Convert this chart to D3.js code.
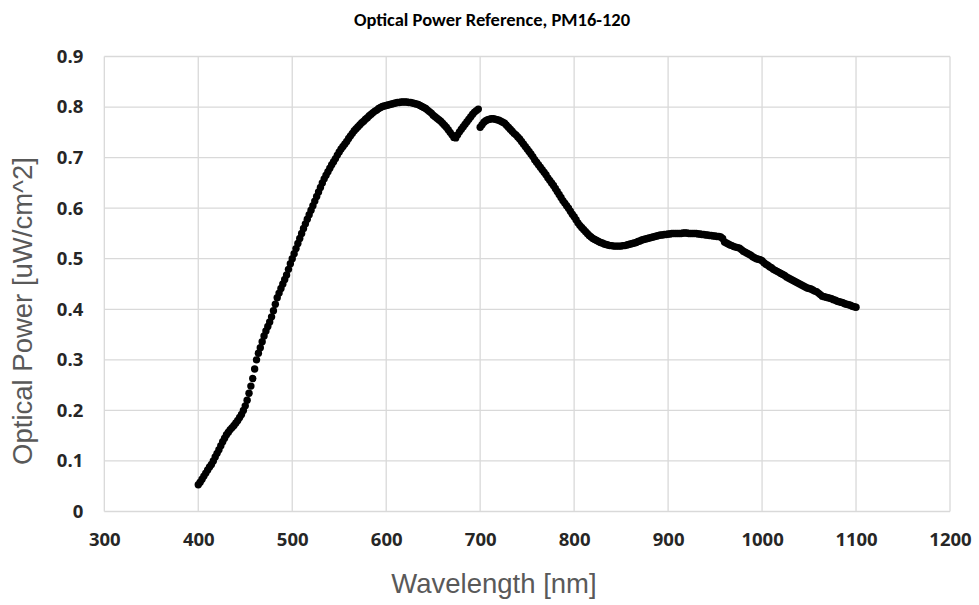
<!DOCTYPE html>
<html>
<head>
<meta charset="utf-8">
<script src="https://cdn.jsdelivr.net/npm/d3@7"></script>
<style>
  html, body { margin: 0; padding: 0; background: #fff; }
  svg { display: block; }
</style>
</head>
<body>
<svg id="chart" width="979" height="605"></svg>
<script>
// Optical power reference curve, PM16-120 (2 nm steps)

const wavelengths = [
  400,402,404,406,408,410,412,414,416,418,420,422,424,426,428,430,432,434,436,438,440,442,444,446,448,
  450,452,454,456,458,460,462,464,466,468,470,472,474,476,478,480,482,484,486,488,490,492,494,496,498,
  500,502,504,506,508,510,512,514,516,518,520,522,524,526,528,530,532,534,536,538,540,542,544,546,548,
  550,552,554,556,558,560,562,564,566,568,570,572,574,576,578,580,582,584,586,588,590,592,594,596,598,
  600,602,604,606,608,610,612,614,616,618,620,622,624,626,628,630,632,634,636,638,640,642,644,646,648,
  650,652,654,656,658,660,662,664,666,668,670,672,674,676,678,680,682,684,686,688,690,692,694,696,698,
  700,702,704,706,708,710,712,714,716,718,720,722,724,726,728,730,732,734,736,738,740,742,744,746,748,
  750,752,754,756,758,760,762,764,766,768,770,772,774,776,778,780,782,784,786,788,790,792,794,796,798,
  800,802,804,806,808,810,812,814,816,818,820,822,824,826,828,830,832,834,836,838,840,842,844,846,848,
  850,852,854,856,858,860,862,864,866,868,870,872,874,876,878,880,882,884,886,888,890,892,894,896,898,
  900,902,904,906,908,910,912,914,916,918,920,922,924,926,928,930,932,934,936,938,940,942,944,946,948,
  950,952,954,956,958,960,962,964,966,968,970,972,974,976,978,980,982,984,986,988,990,992,994,996,998,
  1000,1002,1004,1006,1008,1010,1012,1014,1016,1018,1020,1022,1024,1026,1028,1030,1032,1034,1036,1038,1040,1042,1044,1046,1048,
  1050,1052,1054,1056,1058,1060,1062,1064,1066,1068,1070,1072,1074,1076,1078,1080,1082,1084,1086,1088,1090,1092,1094,1096,1098,
  1100
];

const power = [
  0.053,0.058,0.064,0.070,0.076,0.082,0.088,0.093,0.100,0.108,0.115,0.122,0.130,0.138,0.145,0.152,0.157,0.162,0.166,0.170,0.175,0.180,0.186,0.192,0.200,
  0.209,0.220,0.234,0.248,0.263,0.282,0.300,0.313,0.324,0.336,0.347,0.357,0.366,0.375,0.385,0.397,0.410,0.423,0.432,0.441,0.450,0.459,0.468,0.479,0.490,
  0.500,0.510,0.520,0.530,0.540,0.550,0.560,0.569,0.578,0.587,0.596,0.605,0.614,0.623,0.632,0.641,0.650,0.658,0.665,0.672,0.679,0.686,0.692,0.698,0.705,
  0.711,0.717,0.722,0.727,0.732,0.738,0.743,0.748,0.753,0.757,0.761,0.765,0.769,0.772,0.776,0.779,0.783,0.786,0.789,0.792,0.794,0.797,0.799,0.801,0.802,
  0.803,0.804,0.805,0.806,0.807,0.808,0.809,0.809,0.810,0.810,0.810,0.810,0.809,0.809,0.808,0.807,0.806,0.805,0.803,0.801,0.799,0.797,0.794,0.791,0.788,
  0.784,0.781,0.778,0.775,0.772,0.768,0.764,0.760,0.755,0.750,0.745,0.740,0.739,0.745,0.751,0.756,0.761,0.766,0.771,0.776,0.781,0.786,0.790,0.793,0.796,
  0.760,0.765,0.770,0.773,0.775,0.776,0.777,0.777,0.776,0.775,0.774,0.772,0.770,0.768,0.764,0.760,0.756,0.752,0.748,0.745,0.741,0.737,0.732,0.727,0.722,
  0.717,0.712,0.707,0.702,0.696,0.691,0.686,0.681,0.676,0.671,0.666,0.660,0.655,0.650,0.645,0.639,0.633,0.627,0.621,0.615,0.610,0.605,0.600,0.594,0.588,
  0.583,0.577,0.571,0.566,0.562,0.558,0.554,0.550,0.546,0.543,0.540,0.538,0.536,0.534,0.532,0.531,0.529,0.528,0.527,0.526,0.526,0.525,0.525,0.525,0.525,
  0.525,0.526,0.526,0.527,0.528,0.529,0.530,0.531,0.532,0.534,0.535,0.537,0.538,0.539,0.540,0.541,0.542,0.543,0.544,0.545,0.546,0.547,0.547,0.548,0.548,
  0.549,0.549,0.550,0.550,0.550,0.550,0.550,0.550,0.551,0.551,0.551,0.550,0.550,0.550,0.550,0.550,0.549,0.549,0.548,0.548,0.547,0.547,0.546,0.546,0.545,
  0.545,0.544,0.544,0.543,0.540,0.533,0.531,0.529,0.527,0.526,0.524,0.523,0.522,0.521,0.518,0.515,0.513,0.511,0.509,0.507,0.504,0.502,0.500,0.499,0.498,
  0.496,0.492,0.489,0.487,0.484,0.482,0.479,0.477,0.475,0.473,0.471,0.469,0.467,0.464,0.462,0.460,0.458,0.456,0.454,0.452,0.450,0.448,0.446,0.444,0.442,
  0.441,0.440,0.438,0.436,0.435,0.432,0.429,0.426,0.425,0.424,0.423,0.422,0.421,0.419,0.418,0.416,0.415,0.414,0.413,0.411,0.410,0.409,0.408,0.406,0.405,
  0.404
];

const xTicks = [300, 400, 500, 600, 700, 800, 900, 1000, 1100, 1200];
const yTicks = [0, 0.1, 0.2, 0.3, 0.4, 0.5, 0.6, 0.7, 0.8, 0.9];

function drawChart() {
  const svg = d3.select("#chart");

  const margin = { top: 56.5, left: 104.3 };
  const innerWidth = 845.7;
  const innerHeight = 455;

  const data = wavelengths.map((w, i) => ({ w, p: power[i] }));

  const x = d3.scaleLinear().domain([300, 1200]).range([0, innerWidth]);
  const y = d3.scaleLinear().domain([0, 0.9]).range([innerHeight, 0]);

  const g = svg.append("g")
    .attr("transform", `translate(${margin.left},${margin.top})`);

  const labelFont = "Carlito, Calibri, Lato, sans-serif";
  const tickFont = "'Open Sans', sans-serif";
  const titleFont = "'Liberation Sans', Arial, sans-serif";

  // grid (Excel style: light grey, no separate axis line)
  g.append("g")
    .selectAll("line")
    .data(yTicks)
    .join("line")
    .attr("x1", 0)
    .attr("x2", innerWidth)
    .attr("y1", d => y(d))
    .attr("y2", d => y(d))
    .attr("stroke", "#d9d9d9")
    .attr("stroke-width", 1.3);

  g.append("g")
    .selectAll("line")
    .data(xTicks)
    .join("line")
    .attr("x1", d => x(d))
    .attr("x2", d => x(d))
    .attr("y1", 0)
    .attr("y2", innerHeight)
    .attr("stroke", "#d9d9d9")
    .attr("stroke-width", 1.3);

  g.append("g")
    .attr("transform", `translate(0,${innerHeight})`)
    .call(d3.axisBottom(x).tickValues(xTicks).tickSize(0).tickPadding(21).tickFormat(d3.format("d")))
    .call(axis => {
      axis.select(".domain").remove();
      axis.selectAll("text")
        .attr("fill", "#262626")
        .attr("font-family", tickFont)
        .attr("font-size", 18.5)
        .attr("font-weight", "bold");
    });

  g.append("g")
    .call(d3.axisLeft(y).tickValues(yTicks).tickSize(0).tickPadding(21).tickFormat(d => d === 0 ? "0" : d3.format(".1f")(d)))
    .call(axis => {
      axis.select(".domain").remove();
      axis.selectAll("text")
        .attr("fill", "#262626")
        .attr("font-family", tickFont)
        .attr("font-size", 18.5)
        .attr("font-weight", "bold");
    });

  g.append("g")
    .selectAll("circle")
    .data(data)
    .join("circle")
    .attr("cx", d => x(d.w))
    .attr("cy", d => y(d.p))
    .attr("r", 3.7)
    .attr("fill", "#000");

  svg.append("text")
    .attr("x", 492)
    .attr("y", 26)
    .attr("text-anchor", "middle")
    .attr("fill", "#000")
    .attr("font-family", labelFont)
    .attr("font-size", 18.5)
    .attr("font-weight", "bold")
    .text("Optical Power Reference, PM16-120");

  svg.append("text")
    .attr("x", 494)
    .attr("y", 593)
    .attr("text-anchor", "middle")
    .attr("fill", "#595959")
    .attr("font-family", titleFont)
    .attr("font-size", 27.5)
    .text("Wavelength [nm]");

  svg.append("text")
    .attr("transform", "rotate(-90)")
    .attr("x", -311)
    .attr("y", 32)
    .attr("text-anchor", "middle")
    .attr("fill", "#595959")
    .attr("font-family", titleFont)
    .attr("font-size", 27.5)
    .text("Optical Power [uW/cm^2]");
}

drawChart();
</script>
</body>
</html>
